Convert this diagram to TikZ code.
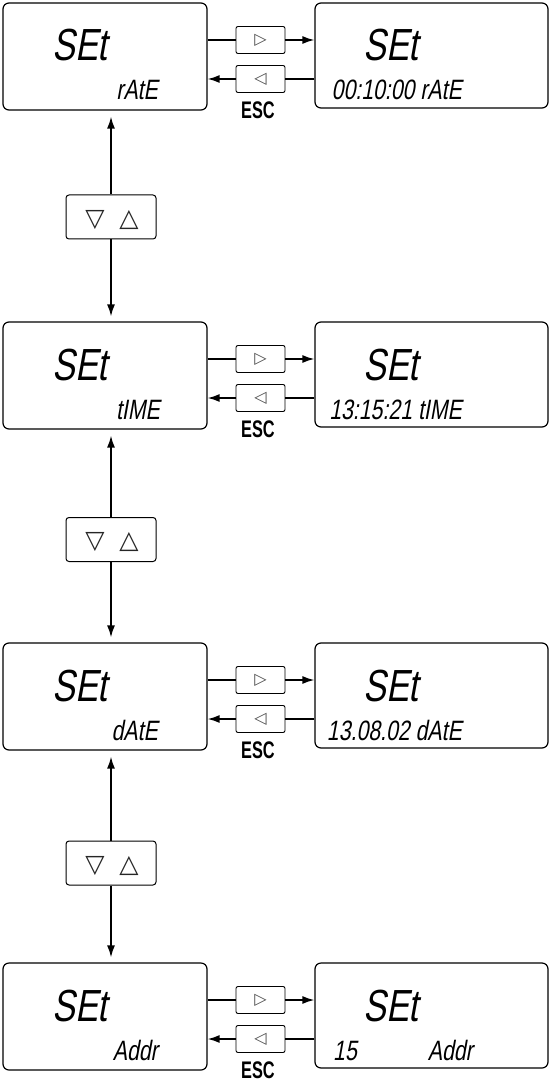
\documentclass[tikz,border=0pt]{standalone}
\usepackage{fontspec}
\usetikzlibrary{arrows.meta}
\newfontfamily\segfont[FakeStretch=0.76,FakeSlant=0.18]{Liberation Sans}
\newfontfamily\escfont[FakeStretch=0.68]{Liberation Sans}
\newfontfamily\symfont{DejaVu Sans}
\tikzset{
  disp/.style={draw, line width=1.2pt, rounded corners=6pt, inner sep=0pt},
  btn/.style={draw, line width=0.9pt, rounded corners=2pt, minimum width=49pt, minimum height=27pt, inner sep=0pt,
    font=\symfont\fontsize{16}{16}\selectfont, text=black!70},
  udbtn/.style={draw, line width=1pt, rounded corners=3pt, minimum width=90pt, minimum height=44pt, inner sep=0pt},
  tri/.style={font=\symfont\fontsize{25}{25}\selectfont, inner sep=0pt, text=black!85},
  big/.style={font=\segfont\fontsize{45}{45}\selectfont, inner sep=0pt, anchor=base west},
  small/.style={font=\segfont\fontsize{28}{28}\selectfont, inner sep=0pt},
  esc/.style={font=\escfont\bfseries\fontsize{24}{24}\selectfont, inner sep=0pt},
  line/.style={line width=1.6pt},
  conn/.style={line width=1.6pt, -{Latex[length=12pt,width=8pt]}}
}
\begin{document}
\begin{tikzpicture}[x=1pt,y=-1pt]
\useasboundingbox (0,0) rectangle (551,1083);
\foreach \r/\T in {1/3,2/322,3/643,4/963}{
  \node[disp, minimum width=204pt, minimum height=107pt] (L\r) at (105,\T+53.5) {};
  \node[disp, minimum width=233pt, minimum height=105pt] (R\r) at (431.5,\T+52.5) {};
  \node[btn] (F\r) at (260.5,\T+37) {▷};
  \node[btn] (B\r) at (260.5,\T+76) {◁};
  \node[esc] (E\r) at (258,\T+107) {ESC};
  \node[big] (LS\r) at (52,\T+58) {SEt};
  \node[big] (RS\r) at (363,\T+58) {SEt};
  \draw[line] (L\r.east |- F\r.west) -- (F\r.west);
  \draw[conn] (F\r.east) -- (R\r.west |- F\r.east);
  \draw[line] (R\r.west |- B\r.east) -- (B\r.east);
  \draw[conn] (B\r.west) -- (L\r.east |- B\r.west);
}
% left sub texts
\node[small, anchor=base east] (l1) at (158,100) {rAtE};
\node[small, anchor=base east] (l2) at (160,419) {tIME};
\node[small, anchor=base east] (l3) at (158,740) {dAtE};
\node[small, anchor=base east] (l4) at (158,1060) {Addr};
% right sub texts
\node[small, anchor=base east] (r1) at (462,100) {00:10:00 rAtE};
\node[small, anchor=base east] (r2) at (462,419) {13:15:21 tIME};
\node[small, anchor=base east] (r3) at (462,740) {13.08.02 dAtE};
\node[small, anchor=base west] (r4a) at (333,1060) {15};
\node[small, anchor=base east] (r4b) at (473,1060) {Addr};
% up/down buttons
\foreach \i/\y/\a/\b in {1/217/1/2,2/539.5/2/3,3/863/3/4}{
  \node[udbtn] (U\i) at (111,\y) {};
  \node[tri] (D\i) at (95,\y+3) {▽};
  \node[tri] (P\i) at (129,\y+3) {△};
  \draw[conn, shorten >=6pt] (U\i.north) -- (U\i.north |- L\a.south);
  \draw[conn, shorten >=5pt] (U\i.south) -- (U\i.south |- L\b.north);
}
\end{tikzpicture}
\end{document}
